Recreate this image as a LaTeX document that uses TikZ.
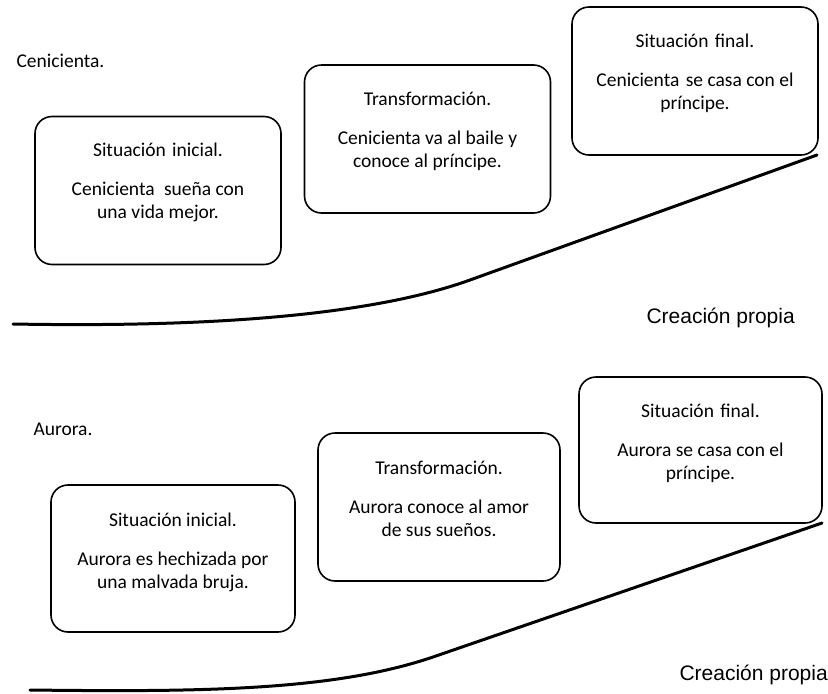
\documentclass[tikz,border=0pt]{standalone}
\usepackage{fontspec}
\setmainfont{Carlito}
\newfontfamily\arialfont{Liberation Sans}
\usetikzlibrary{positioning,calc}
\tikzset{>=stealth}
\tikzset{
  caja/.style={draw,rounded corners=17pt,line width=1.6pt,minimum width=246pt,minimum height=148pt},
  texto/.style={align=center,font=\fontsize{19.5}{23}\selectfont},
  titulo/.style={font=\fontsize{19.5}{23}\selectfont},
  fuente/.style={font=\arialfont\fontsize{21}{25}\selectfont},
  trazo/.style={line width=3pt,line cap=round}
}

\begin{document}
\begin{tikzpicture}[x=1pt,y=-1pt]
\useasboundingbox (0,0) rectangle (828,694);
% Cenicienta
\node[titulo,anchor=base west] (cen) at (13,67) {Cenicienta.};
\node[caja] (ci1) at (158,190.5) {};
\node[caja] (tr1) at (427.5,139) {};
\node[caja] (sf1) at (695,81) {};
\node[texto] (ci1t) at ([yshift=8pt]ci1.center) {Situación\hspace{2pt} inicial.\\[16pt]Cenicienta\hspace{5pt} sueña con\\una vida mejor.};
\node[texto] (tr1t) at ([yshift=8pt]tr1.center) {Transformación.\\[16pt]Cenicienta va al baile y\\conoce al príncipe.};
\node[texto] (sf1t) at ([yshift=8pt]sf1.center) {Situación\hspace{2pt} final.\\[16pt]Cenicienta\hspace{2pt} se casa con el\\príncipe.};
\draw[trazo] (13,324) .. controls (180,327) and (360,319.6) .. (470,280) -- (817,155);
\node[fuente,anchor=base west] (cp1) at (643,323) {Creación propia};
% Aurora
\node[titulo,anchor=base west] (aur) at (30,435) {Aurora.};
\node[caja,minimum width=244pt,minimum height=147pt] (ci2) at (173,558.5) {};
\node[caja,minimum width=242pt] (tr2) at (439,507) {};
\node[caja,minimum width=243pt,minimum height=146pt] (sf2) at (700.5,450) {};
\node[texto] (ci2t) at ([yshift=6pt]ci2.center) {Situación inicial.\\[16pt]Aurora es hechizada por\\una malvada bruja.};
\node[texto] (tr2t) at ([yshift=8pt]tr2.center) {Transformación.\\[16pt]Aurora conoce al amor\\de sus sueños.};
\node[texto] (sf2t) at ([yshift=7pt]sf2.center) {Situación\hspace{2pt} final.\\[16pt]Aurora se casa con el\\príncipe.};
\draw[trazo] (30,690) .. controls (200,692) and (333,691) .. (433,657) -- (822,523);
\node[fuente,anchor=base west] (cp2) at (676,680) {Creación propia};
\end{tikzpicture}
\end{document}
